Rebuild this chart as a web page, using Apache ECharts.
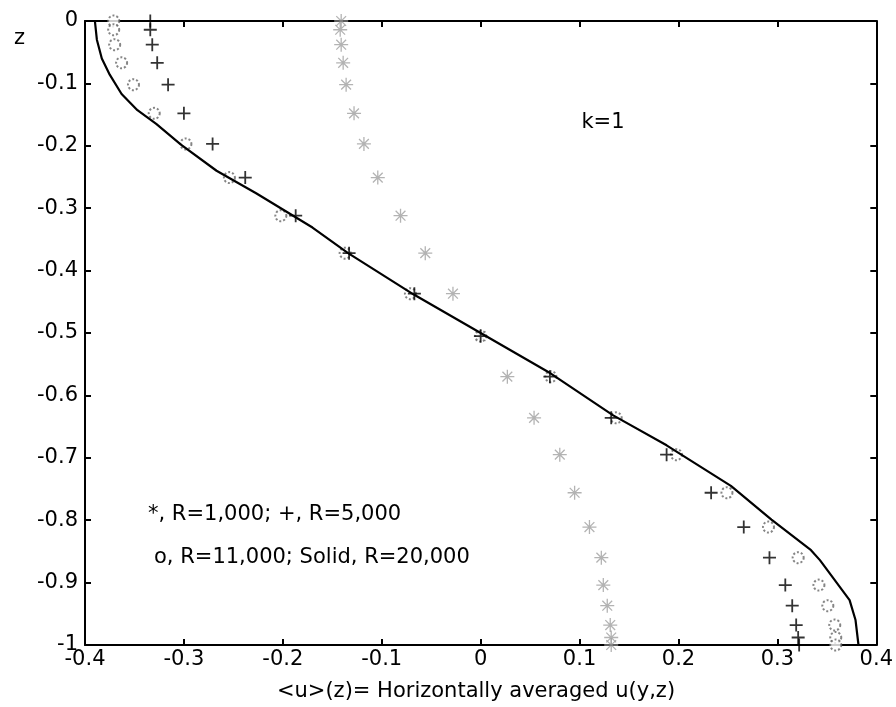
<!DOCTYPE html>
<html>
<head>
<meta charset="utf-8">
<script src="https://cdn.jsdelivr.net/npm/echarts@6/dist/echarts.min.js"></script>
<style>html,body{margin:0;padding:0;background:#fff;}#c{width:896px;height:707px;}</style>
</head>
<body>
<div id="c"></div>
<script>
// Shared z levels of the marker series
var zLevels = [0, -0.014, -0.038, -0.067, -0.102, -0.148, -0.197, -0.251, -0.312, -0.372, -0.437, -0.505, -0.570, -0.636, -0.695, -0.756, -0.811, -0.860, -0.904, -0.937, -0.968, -0.988, -1];
// R=1,000 (stars)
var uR1000 = [-0.141, -0.142, -0.141, -0.139, -0.136, -0.128, -0.118, -0.104, -0.081, -0.056, -0.028, 0.0, 0.027, 0.054, 0.080, 0.095, 0.110, 0.122, 0.124, 0.128, 0.131, 0.132, 0.132];
// R=5,000 (plus)
var uR5000 = [-0.334, -0.334, -0.332, -0.327, -0.316, -0.300, -0.271, -0.238, -0.187, -0.133, -0.067, 0.0, 0.070, 0.132, 0.188, 0.233, 0.266, 0.292, 0.308, 0.315, 0.319, 0.321, 0.322];
// R=11,000 (circles)
var uR11000 = [-0.371, -0.371, -0.370, -0.363, -0.351, -0.330, -0.298, -0.254, -0.202, -0.137, -0.071, 0.0, 0.071, 0.137, 0.198, 0.249, 0.291, 0.321, 0.342, 0.351, 0.358, 0.359, 0.359];
// R=20,000 (solid line)
var lineZ = [0, -0.03, -0.06, -0.086, -0.117, -0.143, -0.165, -0.198, -0.24, -0.276, -0.331, -0.372, -0.438, -0.5, -0.565, -0.632, -0.68, -0.745, -0.799, -0.848, -0.864, -0.928, -0.96, -1.0];
var lineU = [-0.390, -0.388, -0.383, -0.375, -0.363, -0.347, -0.328, -0.303, -0.267, -0.227, -0.170, -0.134, -0.068, 0.0, 0.071, 0.134, 0.188, 0.253, 0.294, 0.334, 0.343, 0.373, 0.379, 0.382];
// Axis ticks
var xMin = -0.4, xMax = 0.4, xStep = 0.1;
var yMin = -1, yMax = 0, yStep = 0.1;

function pairs(xs, zs) { return xs.map(function (x, i) { return [x, zs[i]]; }); }

var FONT = 'DejaVu Sans';
var chart = echarts.init(document.getElementById('c'), null, { renderer: 'canvas' });
var axisCommon = {
  type: 'value',
  axisLine: { show: true, onZero: false, lineStyle: { color: '#000', width: 2 } },
  axisTick: { show: true, inside: true, length: 6, lineStyle: { color: '#000', width: 2 } },
  splitLine: { show: false }
};
var plusPath = 'path://M0,5L10,5M5,0L5,10';
var starPath = 'path://M0,5L10,5M5,0L5,10M1.5,1.5L8.5,8.5M8.5,1.5L1.5,8.5';

chart.setOption({
  animation: false,
  backgroundColor: '#fff',
  grid: { left: 85, right: 17, top: 21, bottom: 62 },
  xAxis: [
    Object.assign({}, axisCommon, {
      min: xMin, max: xMax, interval: xStep, position: 'bottom',
      axisLabel: { color: '#000', fontSize: 21, fontFamily: FONT, margin: 4,
        showMinLabel: true, showMaxLabel: true }
    }),
    Object.assign({}, axisCommon, {
      min: xMin, max: xMax, interval: xStep, position: 'top',
      axisLabel: { show: false }
    })
  ],
  yAxis: [
    Object.assign({}, axisCommon, {
      min: yMin, max: yMax, interval: yStep, position: 'left',
      axisLabel: { color: '#000', fontSize: 21, fontFamily: FONT, margin: 7 }
    }),
    Object.assign({}, axisCommon, {
      min: yMin, max: yMax, interval: yStep, position: 'right',
      axisLabel: { show: false }
    })
  ],
  series: [
    {
      name: 'R=1,000', type: 'scatter', data: pairs(uR1000, zLevels),
      symbol: starPath, symbolSize: 14,
      itemStyle: { color: 'transparent', borderColor: '#a0a0a0', borderWidth: 1.3 }, z: 2
    },
    {
      name: 'R=11,000', type: 'scatter', data: pairs(uR11000, zLevels),
      symbol: 'emptyCircle', symbolSize: 11,
      itemStyle: { color: '#666', borderColor: '#666', borderWidth: 1.3, borderType: 'dotted' }, z: 3
    },
    {
      name: 'R=5,000', type: 'scatter', data: pairs(uR5000, zLevels),
      symbol: plusPath, symbolSize: 13,
      itemStyle: { color: 'transparent', borderColor: '#000', borderWidth: 1.8 }, z: 4
    },
    {
      name: 'R=20,000', type: 'line', data: pairs(lineU, lineZ),
      showSymbol: false, symbol: 'none', smooth: false,
      lineStyle: { color: '#000', width: 2.2 }, z: 5
    }
  ],
  graphic: [
    { type: 'text', left: 14, top: 28, style: { text: 'z', font: '21px "DejaVu Sans"', fill: '#000' } },
    { type: 'text', x: 603, y: 123, style: { text: 'k=1', font: '21px "DejaVu Sans"', fill: '#000', align: 'center', verticalAlign: 'middle' } },
    { type: 'text', x: 148, y: 515, style: { text: '*, R=1,000; +, R=5,000', font: '21px "DejaVu Sans"', fill: '#000', align: 'left', verticalAlign: 'middle' } },
    { type: 'text', x: 154, y: 558, style: { text: 'o, R=11,000; Solid, R=20,000', font: '21px "DejaVu Sans"', fill: '#000', align: 'left', verticalAlign: 'middle' } },
    { type: 'text', x: 476, y: 692, style: { text: '<u>(z)= Horizontally averaged u(y,z)', font: '21px "DejaVu Sans"', fill: '#000', align: 'center', verticalAlign: 'middle' } }
  ]
});
</script>
</body>
</html>
